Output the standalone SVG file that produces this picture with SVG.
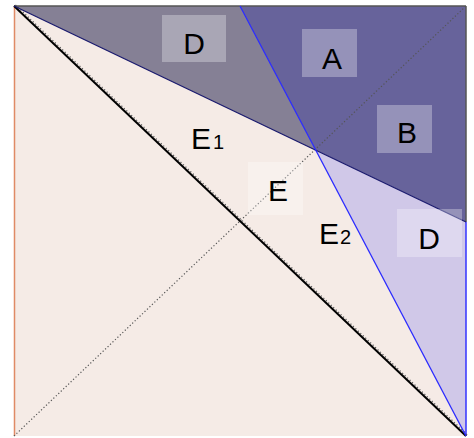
<svg xmlns="http://www.w3.org/2000/svg" width="474" height="438" viewBox="0 0 474 438">
<style>
.lbl{font-family:"Liberation Sans",Arial,sans-serif;font-size:30px;fill:#000;text-anchor:middle}
.sub{font-family:"Liberation Sans",Arial,sans-serif;font-size:20px;fill:#000}
.box{fill:#fff;fill-opacity:0.3}
.dot{fill:none;stroke:#555;stroke-width:1.2;stroke-dasharray:1.2 2.2}
</style>
<rect width="474" height="438" fill="#fff"/>
<g id="regions">
<rect x="14" y="6" width="452" height="430" fill="#f5ebe6"/>
<polygon points="14,6 240,6 315.8,150.2" fill="#858095"/>
<polygon points="240,6 466,6 466,222 315.8,150.2" fill="#67639b"/>
<polygon points="315.8,150.2 466,222 466,436" fill="#d0c8e8"/>
</g>
<g id="connectors">
<line x1="14" y1="6" x2="466" y2="6" stroke="#555" stroke-width="1.5"/>
<line x1="466" y1="6" x2="466" y2="222" stroke="#555" stroke-width="1.5"/>
<line x1="466" y1="222" x2="466" y2="436" stroke="#3333ff" stroke-width="1.5"/>
<line x1="14.5" y1="6" x2="14.5" y2="436" stroke="#e08a66" stroke-width="1.5"/>
<line class="dot" x1="14" y1="436" x2="466" y2="6"/>
<line class="dot" x1="15.5" y1="5" x2="467.5" y2="435"/>
<line x1="14" y1="6" x2="466" y2="436" stroke="#000" stroke-width="2"/>
<line x1="14" y1="6" x2="466" y2="222" stroke="#1a1a6e" stroke-width="1.3"/>
<line x1="240" y1="6" x2="466" y2="436" stroke="#2b2bff" stroke-width="1.3"/>
</g>
<g id="label-D-top"><rect class="box" x="162" y="15" width="64" height="47"/><text class="lbl" x="194" y="54">D</text></g>
<g id="label-A"><rect class="box" x="302" y="29" width="55" height="48"/><text class="lbl" x="332" y="69">A</text></g>
<g id="label-B"><rect class="box" x="377" y="105" width="55" height="48"/><text class="lbl" x="407" y="143">B</text></g>
<g id="label-D-right"><rect class="box" x="397" y="209" width="65" height="48"/><text class="lbl" x="429" y="249">D</text></g>
<g id="label-E"><rect class="box" x="248" y="162" width="55" height="53"/><text class="lbl" x="278" y="201">E</text></g>
<g id="label-E1"><text class="lbl" x="201" y="149">E</text><text class="sub" x="213" y="149">1</text></g>
<g id="label-E2"><text class="lbl" x="329" y="244">E</text><text class="sub" x="340" y="244">2</text></g>
</svg>
